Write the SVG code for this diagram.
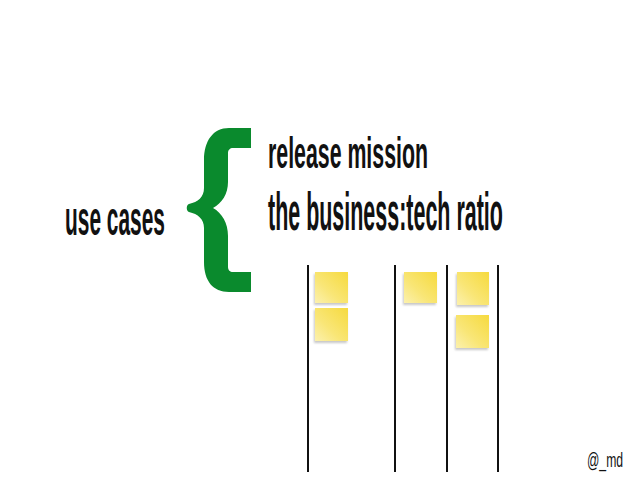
<svg xmlns="http://www.w3.org/2000/svg" width="638" height="479" viewBox="0 0 638 479">
<defs>
<linearGradient id="note" x1="1" y1="0" x2="0" y2="1">
<stop offset="0" stop-color="#f6da3e"/>
<stop offset="0.6" stop-color="#f9e677"/>
<stop offset="1" stop-color="#fcf1ae"/>
</linearGradient>
<filter id="blur" x="-20%" y="-20%" width="140%" height="140%">
<feGaussianBlur stdDeviation="1.2"/>
</filter>
</defs>
<style>
.t{font-family:"Liberation Sans",Arial,sans-serif;fill:#111;font-weight:bold}
.thin{font-weight:normal}
.line{stroke:#111;stroke-width:2}
.shadow{fill:#9a9a9a;opacity:0.55;filter:url(#blur)}
.sticky{fill:url(#note)}
</style>
<rect width="638" height="479" fill="#fff"/>
<g id="use-cases"><text class="t" transform="translate(65,235) scale(0.4357,1)" font-size="48">use cases</text></g>
<g id="brace"><path fill="#0a8a2d" d="M251,128 L229,128 C213,128 204,141 204,160 L204,188 C204,197 198,202 189,204 C186,205 186,211 189,212 C198,214 204,219 204,228 L204,262 C204,281 213,292 229,292 L251,292 L251,272 L233,272 C230,272 228,270 228,267 L228,236 C228,223 222,213 213,208 C222,203 228,194 228,182 L228,153 C228,150 230,148 233,148 L251,148 Z"/></g>
<g id="release-mission"><text class="t" transform="translate(268,168) scale(0.4846,1)" font-size="44">release mission</text></g>
<g id="business-tech-ratio"><text class="t" transform="translate(268,230) scale(0.405,1)" font-size="53">the business:tech ratio</text></g>
<g id="board">
<line class="line" x1="308" y1="265" x2="308" y2="472"/>
<line class="line" x1="395" y1="265" x2="395" y2="472"/>
<line class="line" x1="447" y1="265" x2="447" y2="472"/>
<line class="line" x1="498" y1="265" x2="498" y2="472"/>
</g>
<g id="notes">
<rect class="shadow" x="314" y="274" width="33" height="31"/>
<rect class="sticky" x="315" y="272" width="33" height="31"/>
<rect class="shadow" x="314" y="310" width="33" height="33"/>
<rect class="sticky" x="315" y="308" width="33" height="33"/>
<rect class="shadow" x="403" y="274" width="33" height="31"/>
<rect class="sticky" x="404" y="272" width="33" height="31"/>
<rect class="shadow" x="456" y="274" width="32" height="33"/>
<rect class="sticky" x="457" y="272" width="32" height="33"/>
<rect class="shadow" x="455" y="317" width="33" height="33"/>
<rect class="sticky" x="456" y="315" width="33" height="33"/>
</g>
<g id="credit"><text class="t thin" transform="translate(587,467) scale(0.58,1)" font-size="21">@_md</text></g>
</svg>
